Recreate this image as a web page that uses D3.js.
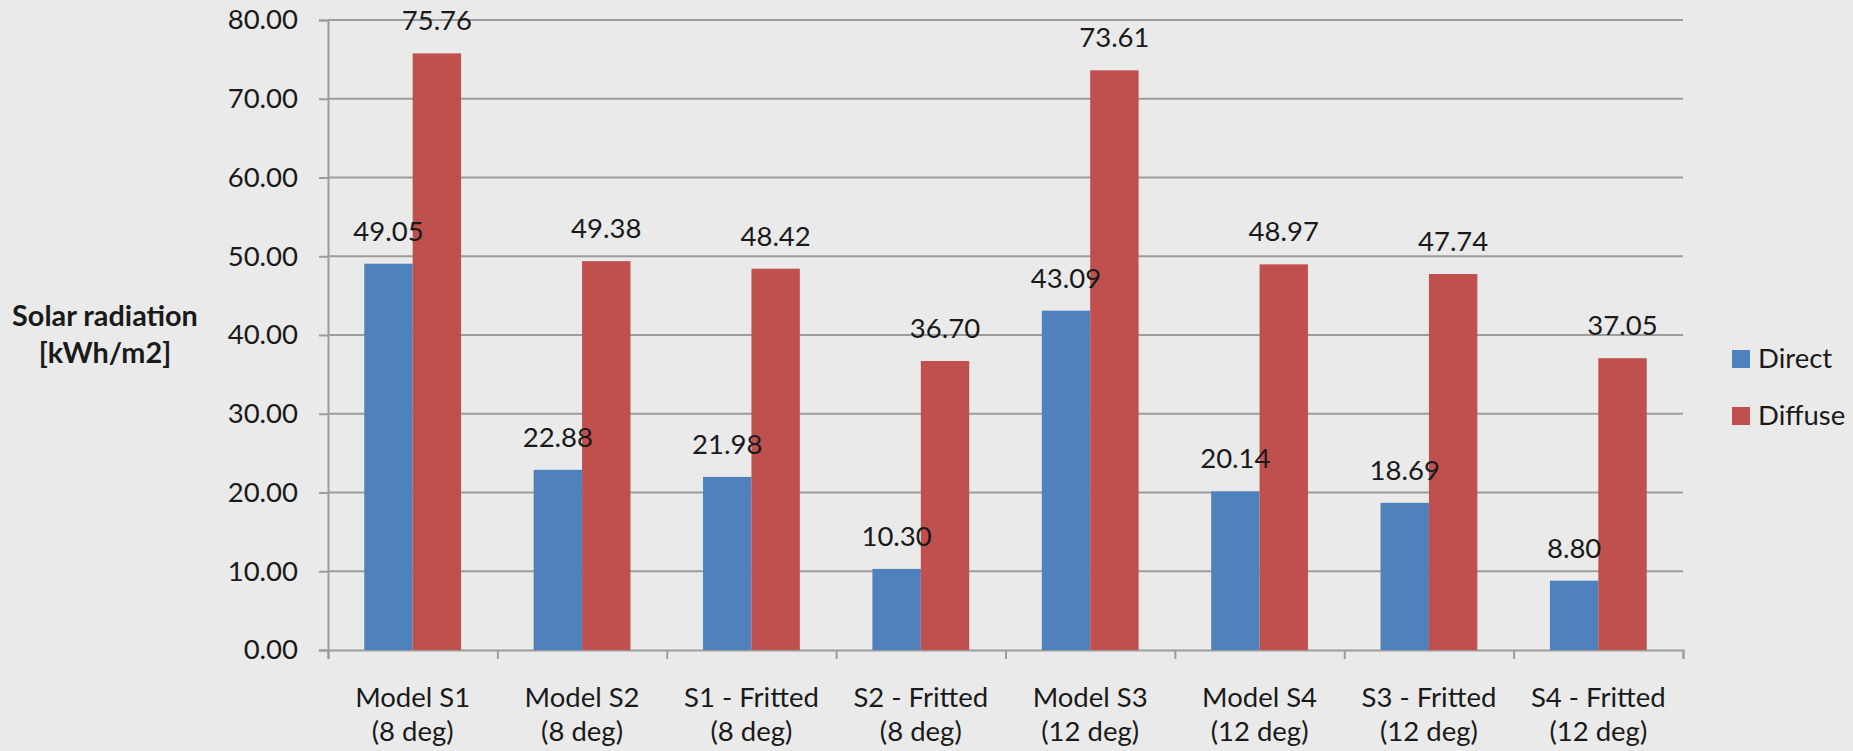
<!DOCTYPE html>
<html>
<head>
<meta charset="utf-8">
<script src="https://cdn.jsdelivr.net/npm/d3@7"></script>
<style>
  html, body { margin: 0; padding: 0; background: #eaeaea; }
  svg { display: block; }
  text { font-family: Lato, "Open Sans", sans-serif; fill: #1a1a1a; }
</style>
</head>
<body>
<svg id="chart" width="1853" height="751"></svg>
<script>
// Solar radiation per model configuration
const categories = [
  ["Model S1", "(8 deg)"],
  ["Model S2", "(8 deg)"],
  ["S1 - Fritted", "(8 deg)"],
  ["S2 - Fritted", "(8 deg)"],
  ["Model S3", "(12 deg)"],
  ["Model S4", "(12 deg)"],
  ["S3 - Fritted", "(12 deg)"],
  ["S4 - Fritted", "(12 deg)"]
];
const seriesNames = ["Direct", "Diffuse"];
const directValues = [49.05, 22.88, 21.98, 10.30, 43.09, 20.14, 18.69, 8.80];
const diffuseValues = [75.76, 49.38, 48.42, 36.70, 73.61, 48.97, 47.74, 37.05];
const yTicks = [0, 10, 20, 30, 40, 50, 60, 70, 80];
const colors = ["#4f81bd", "#c0504d"];

const FS = 27.5;
const svg = d3.select("#chart");
const W = 1853, H = 751;
const plot = { left: 328, right: 1683, top: 20, bottom: 650 };

svg.append("rect").attr("width", W).attr("height", H).attr("fill", "#eaeaea");

const x0 = d3.scaleBand()
  .domain(d3.range(categories.length))
  .range([plot.left, plot.right])
  .paddingInner(0).paddingOuter(0);

// two bars per group, gap of 1.5 bar widths split on both sides
const x1 = d3.scaleBand()
  .domain(seriesNames)
  .range([0, x0.bandwidth()])
  .paddingInner(0)
  .paddingOuter(0.75);

const y = d3.scaleLinear().domain([0, 80]).range([plot.bottom, plot.top]);

// horizontal gridlines
svg.append("g")
  .selectAll("line")
  .data(yTicks.filter(d => d > 0))
  .join("line")
  .attr("x1", plot.left).attr("x2", plot.right)
  .attr("y1", d => y(d)).attr("y2", d => y(d))
  .attr("stroke", "#9c9c9c").attr("stroke-width", 2);

// y axis
const yAxis = d3.axisLeft(y)
  .tickValues(yTicks)
  .tickFormat(d3.format(".2f"))
  .tickSize(9).tickPadding(21);
const gy = svg.append("g").attr("transform", `translate(${plot.left},0)`).call(yAxis);
gy.select(".domain").attr("stroke", "#9c9c9c").attr("stroke-width", 2);
gy.selectAll(".tick line").attr("stroke", "#9c9c9c").attr("stroke-width", 2);
gy.selectAll(".tick text")
  .attr("font-family", "Lato, sans-serif")
  .attr("font-size", FS)
  .attr("fill", "#1a1a1a");

// x axis
const xAxis = d3.axisBottom(d3.scaleLinear().domain([0, categories.length]).range([plot.left, plot.right]))
  .tickValues(d3.range(categories.length + 1))
  .tickSize(9).tickFormat("");
const gx = svg.append("g").attr("transform", `translate(0,${plot.bottom})`).call(xAxis);
gx.select(".domain").attr("stroke", "#9c9c9c").attr("stroke-width", 2);
gx.selectAll(".tick line").attr("stroke", "#9c9c9c").attr("stroke-width", 2);

// category labels
const catLabels = svg.append("g")
  .selectAll("text")
  .data(categories)
  .join("text")
  .attr("text-anchor", "middle")
  .attr("font-size", FS)
  .attr("x", (d, i) => x0(i) + x0.bandwidth() / 2)
  .attr("y", 707);
catLabels.append("tspan").attr("x", (d, i) => x0(i) + x0.bandwidth() / 2).text(d => d[0]);
catLabels.append("tspan").attr("x", (d, i) => x0(i) + x0.bandwidth() / 2).attr("dy", 34).text(d => d[1]);

// bars
const rows = categories.map((c, i) => [
  { s: seriesNames[0], v: directValues[i], i },
  { s: seriesNames[1], v: diffuseValues[i], i }
]);
const groups = svg.append("g")
  .selectAll("g")
  .data(rows)
  .join("g")
  .attr("transform", (d, i) => `translate(${x0(i)},0)`);

groups.selectAll("rect")
  .data(d => d)
  .join("rect")
  .attr("x", d => x1(d.s))
  .attr("width", x1.bandwidth())
  .attr("y", d => y(d.v))
  .attr("height", d => y(0) - y(d.v))
  .attr("fill", (d, k) => colors[k]);

// value labels above bars
groups.selectAll("text.val")
  .data(d => d)
  .join("text")
  .attr("class", "val")
  .attr("text-anchor", "middle")
  .attr("font-size", FS)
  .attr("x", d => x1(d.s) + x1.bandwidth() / 2)
  .attr("y", d => y(d.v) - 23)
  .text(d => d.v.toFixed(2));

// y axis title
const yTitle = svg.append("text")
  .attr("text-anchor", "middle")
  .attr("font-size", 28.8)
  .attr("font-weight", "bold")
  .attr("y", 326);
yTitle.append("tspan").attr("x", 105).text("Solar radiation");
yTitle.append("tspan").attr("x", 105).attr("dy", 37).text("[kWh/m2]");

// legend
const legend = svg.append("g")
  .selectAll("g")
  .data(seriesNames)
  .join("g")
  .attr("transform", (d, i) => `translate(1732,${350 + i * 57})`);
legend.append("rect")
  .attr("width", 18).attr("height", 18)
  .attr("fill", (d, i) => colors[i]);
legend.append("text")
  .attr("x", 26).attr("y", 18)
  .attr("font-size", FS)
  .text(d => d);
</script>
</body>
</html>
